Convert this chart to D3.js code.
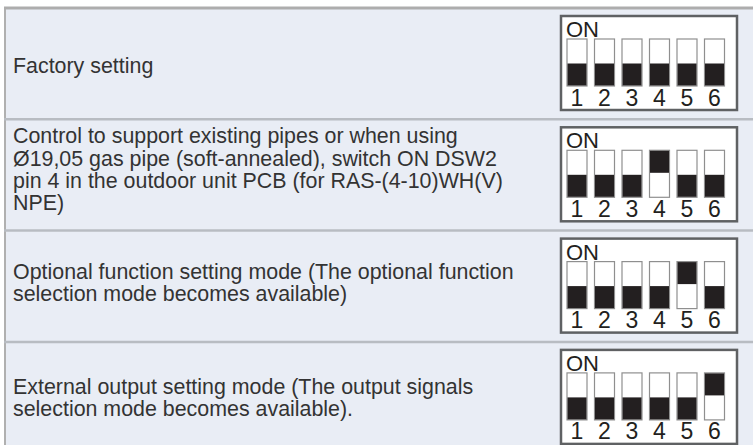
<!DOCTYPE html>
<html><head><meta charset="utf-8">
<script src="https://cdn.jsdelivr.net/npm/d3@7"></script>
<style>
html,body{margin:0;padding:0;background:#fff;}
svg{display:block;}
</style></head>
<body>
<svg id="chart" width="753" height="445"></svg>
<script>
// ---- data ----
const settingLabels = [
  ["Factory setting"],
  ["Control to support existing pipes or when using",
   "Ø19,05 gas pipe (soft-annealed), switch ON DSW2",
   "pin 4 in the outdoor unit PCB (for RAS-(4-10)WH(V)",
   "NPE)"],
  ["Optional function setting mode (The optional function",
   "selection mode becomes available)"],
  ["External output setting mode (The output signals",
   "selection mode becomes available)."]
];
const pinNumbers = [1, 2, 3, 4, 5, 6];
const pinStates = [
  [0, 0, 0, 0, 0, 0],
  [0, 0, 0, 1, 0, 0],
  [0, 0, 0, 0, 1, 0],
  [0, 0, 0, 0, 0, 1]
];
const onLabel = "ON";

// ---- layout ----
const W = 753, H = 445;
const svg = d3.select("#chart");
const rowIdx = d3.range(settingLabels.length);
const y = d3.scaleBand().domain(rowIdx).range([8, 8 + 111.3 * 4]);
const textTop = [65, 24, 48, 52];
const boxX = 561, boxW = 176, boxH = 94;
const pinX = d3.scalePoint().domain(pinNumbers).range([577, 714.5]);
const pinW = 20, pinH = 47, knobH = 22;
const fontFam = "'Liberation Sans', Arial, Helvetica, sans-serif";

svg.append("rect").attr("x", 4).attr("y", 8).attr("width", W).attr("height", H)
  .attr("fill", "#e9edf5");
svg.append("line").attr("x1", 5).attr("x2", 5).attr("y1", 8).attr("y2", H)
  .attr("stroke", "#b0b0b0").attr("stroke-width", 2);

const rows = svg.selectAll("g.row").data(rowIdx).join("g")
  .attr("class", "row")
  .attr("transform", d => `translate(0,${y(d)})`);

// row divider lines
rows.append("line")
  .attr("x1", 4).attr("x2", W).attr("y1", 0).attr("y2", 0)
  .attr("stroke", d => d === 0 ? "#adadad" : "#b8bcc2")
  .attr("stroke-width", d => d === 0 ? 3 : 2.5);

// text
const lh = 22.4;
rows.append("text")
  .attr("font-family", fontFam).attr("font-size", 21.4).attr("fill", "#333")
  .each(function(d) {
    d3.select(this).selectAll("tspan").data(settingLabels[d]).join("tspan")
      .attr("x", 13).attr("y", (t, i) => textTop[d] + i * lh).text(t => t);
  });

// dip switch boxes
const box = rows.append("g")
  .attr("transform", "translate(0,8)");
box.append("rect").attr("x", boxX).attr("y", 0).attr("width", boxW).attr("height", boxH)
  .attr("fill", "#fff").attr("stroke", "#5f6163").attr("stroke-width", 2.5);
box.append("text").attr("x", boxX + 5).attr("y", 21)
  .attr("font-family", fontFam).attr("font-size", 22).attr("fill", "#231f20")
  .text(onLabel);

const pins = box.selectAll("g.pin")
  .data(d => pinNumbers.map((p, i) => ({ p, on: pinStates[d][i] })))
  .join("g").attr("class", "pin");
pins.append("rect")
  .attr("x", d => pinX(d.p) - pinW / 2).attr("y", 23)
  .attr("width", pinW).attr("height", pinH)
  .attr("fill", "#fff").attr("stroke", "#8f8f8f").attr("stroke-width", 1.2);
pins.append("rect")
  .attr("x", d => pinX(d.p) - pinW / 2 + 0.5)
  .attr("y", d => d.on ? 23.5 : 23 + pinH - knobH - 0.5)
  .attr("width", pinW - 1).attr("height", knobH)
  .attr("fill", "#231f20");
pins.append("text")
  .attr("x", d => pinX(d.p)).attr("y", 89.5)
  .attr("text-anchor", "middle")
  .attr("font-family", fontFam).attr("font-size", 23).attr("fill", "#231f20")
  .text(d => d.p);
</script>
</body></html>
